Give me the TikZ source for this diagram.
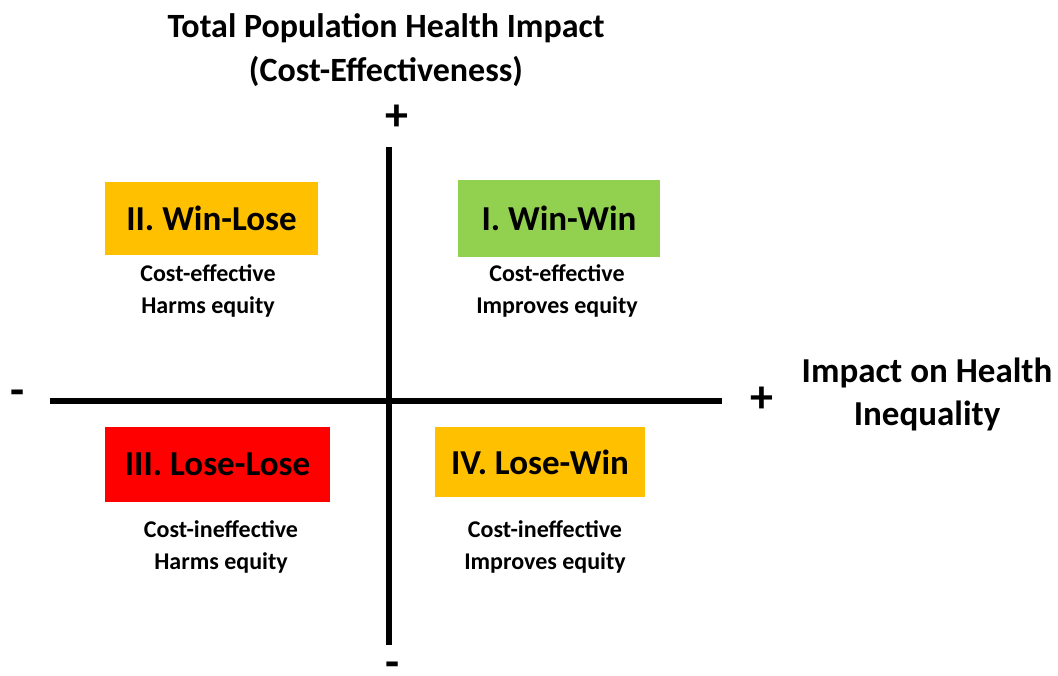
\documentclass[tikz,border=0pt]{standalone}
\usepackage{fontspec}
\setmainfont{Carlito}
\begin{document}
\begin{tikzpicture}[x=1pt,y=-1pt,
  every node/.style={font=\bfseries, text=black, inner sep=0pt},
  quadbox/.style={draw=none, minimum width=#1, minimum height=74pt,
    font=\bfseries\fontsize{35}{40}\selectfont},
  quadnote/.style={align=center, font=\bfseries\fontsize{24}{32}\selectfont},
  axislabel/.style={align=center, font=\bfseries\fontsize{34}{44}\selectfont},
  sign/.style={font=\bfseries\fontsize{46}{46}\selectfont},
  axis/.style={line width=6pt}]
\definecolor{winwin}{HTML}{92D050}
\definecolor{mixed}{HTML}{FFC000}
\definecolor{loselose}{HTML}{FF0000}
\useasboundingbox (0,0) rectangle (1058,676);
\fill[white] (0,0) rectangle (1058,676);

% axes
\coordinate (ytop) at (389,147);
\coordinate (ybot) at (389,645);
\coordinate (xleft) at (50,401);
\coordinate (xright) at (722,401);
\draw[axis] (ytop) -- (ybot);
\draw[axis] (xleft) -- (xright);

% axis signs
\node[sign] (yplus) at (397,118) {+};
\node[sign] (yminus) at (393,670) {-};
\node[sign] (xminus) at (18,398) {-};
\node[sign] (xplus) at (762,400) {+};

% axis titles
\node[axislabel] (ytitle) at (386,50) {Total Population Health Impact\\(Cost-Effectiveness)};
\node[axislabel, font=\bfseries\fontsize{35}{43}\selectfont] (xtitle) at (927,394) {Impact on Health\\Inequality};

% quadrants
\node[quadbox=213pt, fill=mixed, minimum height=73pt] (q2) at (211.5,218.5) {II. Win-Lose};
\node[quadbox=202pt, fill=winwin, minimum height=77pt] (q1) at (559,218.5) {I. Win-Win};
\node[quadbox=225pt, fill=loselose, minimum height=75pt] (q3) at (217.5,464.5) {III. Lose-Lose};
\node[quadbox=210pt, fill=mixed, minimum height=70pt] (q4) at (540,462) {IV. Lose-Win};

\node[quadnote] (n2) at (208,291) {Cost-effective\\Harms equity};
\node[quadnote] (n1) at (557,291) {Cost-effective\\Improves equity};
\node[quadnote] (n3) at (221,547) {Cost-ineffective\\Harms equity};
\node[quadnote] (n4) at (545,547) {Cost-ineffective\\Improves equity};
\end{tikzpicture}
\end{document}
